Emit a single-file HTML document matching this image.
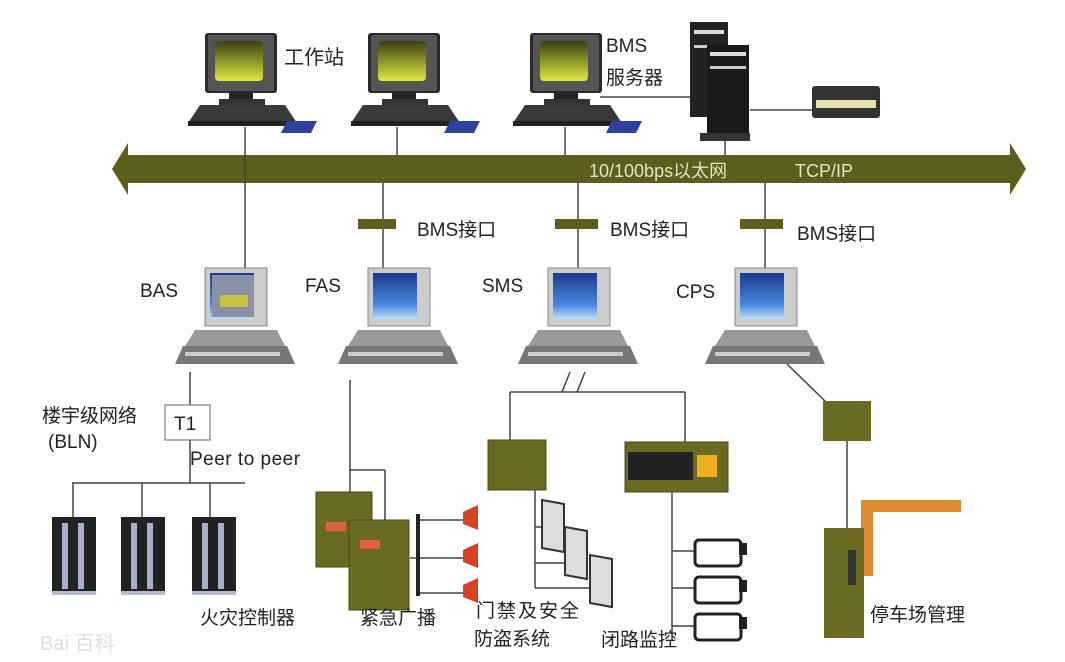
<!DOCTYPE html>
<html><head><meta charset="utf-8"><style>
html,body{margin:0;padding:0;background:#fff}
svg{display:block}
text{font-family:"Liberation Sans","Noto Sans CJK SC",sans-serif;fill:#222}
</style></head><body>
<svg width="1065" height="662" viewBox="0 0 1065 662" xmlns="http://www.w3.org/2000/svg">
<defs>
<linearGradient id="scr" x1="0" y1="0" x2="0" y2="1"><stop offset="0" stop-color="#3a4010"/><stop offset="1" stop-color="#e0e840"/></linearGradient>
<linearGradient id="blu" x1="0" y1="0" x2="0" y2="1"><stop offset="0" stop-color="#1a3a90"/><stop offset="0.7" stop-color="#4a8ae0"/><stop offset="1" stop-color="#c0e0f8"/></linearGradient>
<g id="ws">
 <rect x="0" y="0" width="72" height="60" fill="#2a2a2a" rx="3"/>
 <rect x="3" y="2" width="66" height="56" fill="#555" rx="2"/>
 <rect x="10" y="8" width="48" height="40" fill="url(#scr)" rx="4"/>
 <rect x="24" y="60" width="24" height="8" fill="#222"/>
 <rect x="14" y="66" width="46" height="6" fill="#333"/>
 <polygon points="-5,72 80,72 92,90 -17,90" fill="#3a3a3a"/>
 <rect x="-17" y="88" width="109" height="5" fill="#222"/>
 <polygon points="82,88 112,88 106,100 76,100" fill="#3040a0"/>
</g>
<g id="pc">
 <rect x="0" y="0" width="62" height="58" fill="#ccc" stroke="#888"/>
 <rect x="5" y="5" width="44" height="46" fill="url(#blu)"/>
 <polygon points="-10,62 72,62 80,78 -20,78" fill="#999"/>
 <polygon points="-22,78 82,78 90,96 -30,96" fill="#777"/>
 <rect x="-20" y="84" width="95" height="4" fill="#ccc"/>
</g>
<g id="cab">
 <rect x="0" y="0" width="44" height="78" fill="#222"/>
 <rect x="10" y="6" width="6" height="66" fill="#aab0cc"/>
 <rect x="26" y="6" width="6" height="66" fill="#aab0cc"/>
 <rect x="0" y="74" width="44" height="4" fill="#b8bcd0"/>
</g>
<g id="cam">
 <rect x="0" y="0" width="46" height="26" rx="4" fill="#fff" stroke="#222" stroke-width="3"/>
 <rect x="44" y="3" width="8" height="12" fill="#222"/>
</g>
<g id="door">
 <polygon points="0,0 22,4 22,52 0,48" fill="#ddd" stroke="#333" stroke-width="2"/>
</g>
</defs>

<polygon points="112,169 128,143 128,155 1010,155 1010,143 1026,169 1010,195 1010,183 128,183 128,195" fill="#5d5d1d"/>
<text x="589" y="177" font-size="18" style="fill:#e8e4c0">10/100bps以太网</text>
<text x="795" y="177" font-size="18" style="fill:#e8e4c0">TCP/IP</text>

<g stroke="#444" stroke-width="1.5" fill="none">
<line x1="245" y1="127" x2="245" y2="300"/>
<line x1="397" y1="127" x2="397" y2="155"/>
<line x1="565" y1="127" x2="565" y2="155"/>
<line x1="725" y1="140" x2="725" y2="155"/>
<line x1="600" y1="97" x2="690" y2="97"/>
<line x1="750" y1="110" x2="812" y2="110"/>
<line x1="383" y1="183" x2="383" y2="270"/>
<line x1="578" y1="183" x2="578" y2="270"/>
<line x1="765" y1="183" x2="765" y2="270"/>
<line x1="190" y1="372" x2="190" y2="483"/>
<line x1="72" y1="483" x2="245" y2="483"/>
<line x1="73" y1="483" x2="73" y2="518"/>
<line x1="142" y1="483" x2="142" y2="518"/>
<line x1="210" y1="483" x2="210" y2="518"/>
<line x1="350" y1="380" x2="350" y2="495"/>
<line x1="350" y1="470" x2="385" y2="470"/>
<line x1="385" y1="470" x2="385" y2="520"/>
<line x1="410" y1="558" x2="418" y2="558"/>
<line x1="418" y1="520" x2="463" y2="520"/>
<line x1="418" y1="558" x2="463" y2="558"/>
<line x1="418" y1="593" x2="463" y2="593"/>
<line x1="570" y1="372" x2="562" y2="392"/>
<line x1="585" y1="372" x2="577" y2="392"/>
<line x1="510" y1="392" x2="685" y2="392"/>
<line x1="510" y1="392" x2="510" y2="440"/>
<line x1="685" y1="392" x2="685" y2="442"/>
<line x1="535" y1="490" x2="535" y2="588"/>
<line x1="535" y1="527" x2="545" y2="527"/>
<line x1="535" y1="563" x2="565" y2="563"/>
<line x1="535" y1="588" x2="590" y2="588"/>
<line x1="672" y1="490" x2="672" y2="640"/>
<line x1="672" y1="551" x2="695" y2="551"/>
<line x1="672" y1="588" x2="695" y2="588"/>
<line x1="672" y1="626" x2="695" y2="626"/>
<line x1="785" y1="362" x2="826" y2="402"/>
<line x1="847" y1="440" x2="847" y2="530"/>
</g>
<rect x="416" y="514" width="4" height="82" fill="#222"/>

<rect x="358" y="219" width="38" height="10" fill="#5d5d1d"/>
<rect x="555" y="219" width="43" height="10" fill="#5d5d1d"/>
<rect x="740" y="219" width="43" height="10" fill="#5d5d1d"/>
<text x="417" y="236" font-size="19">BMS接口</text>
<text x="610" y="236" font-size="19">BMS接口</text>
<text x="797" y="240" font-size="19">BMS接口</text>

<use href="#ws" x="205" y="33"/>
<use href="#ws" x="368" y="33"/>
<use href="#ws" x="530" y="33"/>
<text x="284" y="64" font-size="20">工作站</text>
<text x="606" y="52" font-size="19">BMS</text>
<text x="606" y="84" font-size="19">服务器</text>
<rect x="690" y="22" width="38" height="95" fill="#222"/>
<rect x="694" y="30" width="30" height="4" fill="#ddd"/>
<rect x="694" y="45" width="30" height="3" fill="#ccc"/>
<rect x="707" y="45" width="42" height="95" fill="#1a1a1a"/>
<rect x="710" y="52" width="36" height="4" fill="#ddd"/>
<rect x="710" y="66" width="36" height="3" fill="#ccc"/>
<rect x="700" y="133" width="50" height="8" fill="#333"/>
<rect x="812" y="86" width="68" height="32" rx="3" fill="#333"/>
<rect x="816" y="100" width="60" height="8" fill="#e8e0b0"/>

<use href="#pc" x="205" y="268"/>
<rect x="212" y="275" width="42" height="42" fill="#8a90a8"/>
<rect x="220" y="295" width="28" height="12" fill="#c8c040"/>
<use href="#pc" x="368" y="268"/>
<use href="#pc" x="548" y="268"/>
<use href="#pc" x="735" y="268"/>
<text x="140" y="297" font-size="19">BAS</text>
<text x="305" y="292" font-size="19">FAS</text>
<text x="482" y="292" font-size="19">SMS</text>
<text x="676" y="298" font-size="19">CPS</text>

<rect x="165" y="405" width="45" height="35" fill="#fff" stroke="#666"/>
<text x="174" y="430" font-size="19">T1</text>
<text x="42" y="422" font-size="19">楼宇级网络</text>
<text x="48" y="448" font-size="19">(BLN)</text>
<text x="190" y="465" font-size="19" letter-spacing="0.5">Peer to peer</text>
<use href="#cab" x="52" y="517"/>
<use href="#cab" x="121" y="517"/>
<use href="#cab" x="192" y="517"/>
<text x="200" y="624" font-size="19">火灾控制器</text>

<rect x="316" y="492" width="56" height="75" fill="#6b6a22" stroke="#4a4a14"/>
<rect x="326" y="522" width="20" height="9" fill="#e06040"/>
<rect x="349" y="520" width="60" height="90" fill="#6b6a22" stroke="#4a4a14"/>
<rect x="360" y="540" width="20" height="9" fill="#e06040"/>
<polygon points="463,512 478,505 478,530 463,524" fill="#d84020"/>
<polygon points="463,550 478,543 478,568 463,562" fill="#d84020"/>
<polygon points="463,585 478,578 478,603 463,597" fill="#d84020"/>
<text x="360" y="624" font-size="19">紧急广播</text>

<rect x="488" y="440" width="58" height="50" fill="#6b6a22" stroke="#4a4a14"/>
<use href="#door" x="542" y="500"/>
<use href="#door" x="565" y="527"/>
<use href="#door" x="590" y="555"/>
<rect x="625" y="442" width="103" height="50" fill="#6b6a22" stroke="#4a4a14"/>
<rect x="628" y="452" width="65" height="28" fill="#222"/>
<rect x="697" y="455" width="20" height="22" fill="#f0b020"/>
<use href="#cam" x="695" y="540"/>
<use href="#cam" x="695" y="577"/>
<use href="#cam" x="695" y="614"/>
<text x="476" y="617" font-size="19" letter-spacing="2">门禁及安全</text>
<text x="474" y="645" font-size="19">防盗系统</text>
<text x="601" y="646" font-size="19">闭路监控</text>

<rect x="823" y="401" width="48" height="40" fill="#6b6a22"/>
<rect x="861" y="500" width="100" height="12" fill="#e08a30"/>
<rect x="861" y="500" width="12" height="76" fill="#e08a30"/>
<rect x="824" y="528" width="40" height="110" fill="#6b6a22"/>
<rect x="848" y="550" width="8" height="35" fill="#333"/>
<text x="870" y="621" font-size="19">停车场管理</text>

<text x="40" y="650" font-size="20" style="fill:#e0e0e0">Bai 百科</text>
</svg>
</body></html>
